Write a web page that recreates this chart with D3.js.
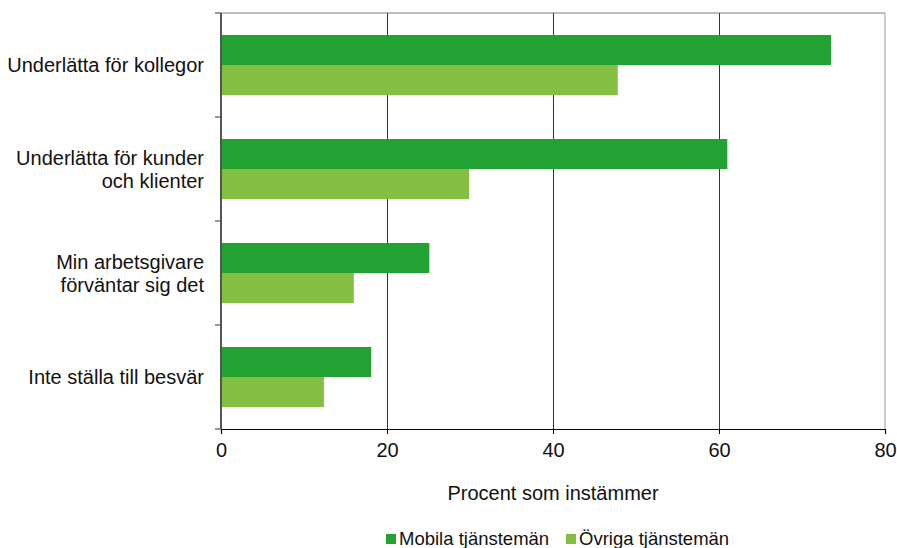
<!DOCTYPE html>
<html>
<head>
<meta charset="utf-8">
<script src="https://cdn.jsdelivr.net/npm/d3@7"></script>
<style>
  html, body { margin: 0; padding: 0; background: #fff; }
  svg { display: block; font-family: "Liberation Sans", Arial, sans-serif; }
</style>
</head>
<body>
<svg id="chart" width="897" height="548"></svg>
<script>
// Reasons for working outside office hours (percent who agree)
const categories = [
  ["Underlätta för kollegor"],
  ["Underlätta för kunder", "och klienter"],
  ["Min arbetsgivare", "förväntar sig det"],
  ["Inte ställa till besvär"]
];
const seriesNames = ["Mobila tjänstemän", "Övriga tjänstemän"];
const mobila = [73.5, 61.0, 25.1, 18.1];
const ovriga = [47.8, 29.9, 16.0, 12.4];
const xTicks = [0, 20, 40, 60, 80];
const colors = ["#21a232", "#84bf42"];

const svg = d3.select("#chart");
const m = { left: 221, right: 885, top: 13, bottom: 429 };

const x = d3.scaleLinear().domain([0, 80]).range([m.left, m.right]);
const y = d3.scaleBand().domain(d3.range(categories.length))
  .range([m.top, m.bottom]).paddingInner(0).paddingOuter(0);

// frame: top and right borders
svg.append("line").attr("x1", m.left).attr("x2", m.right)
  .attr("y1", m.top).attr("y2", m.top)
  .attr("stroke", "#aaaaaa").attr("stroke-width", 1.5);
svg.append("line").attr("x1", m.right).attr("x2", m.right)
  .attr("y1", m.top).attr("y2", m.bottom)
  .attr("stroke", "#999999").attr("stroke-width", 1);

// vertical gridlines
svg.append("g").selectAll("line")
  .data(xTicks.filter(d => d > 0 && d < 80))
  .join("line")
  .attr("x1", d => Math.round(x(d)) + 0.5).attr("x2", d => Math.round(x(d)) + 0.5)
  .attr("y1", m.top).attr("y2", m.bottom)
  .attr("stroke", "#333").attr("stroke-width", 1);

// bars
const series = [mobila, ovriga];
const bandH = y.bandwidth();
const barH = 30;
const padTop = (bandH - 2 * barH) / 2;
series.forEach((vals, si) => {
  svg.append("g").selectAll("rect")
    .data(vals)
    .join("rect")
    .attr("x", x(0))
    .attr("y", (d, i) => y(i) + padTop + si * barH)
    .attr("width", d => x(d) - x(0))
    .attr("height", barH)
    .attr("fill", colors[si]);
});

// bottom axis
const xAxis = d3.axisBottom(x).tickValues(xTicks).tickSize(5).tickPadding(9)
  .tickFormat(d3.format("d"));
const gx = svg.append("g").attr("transform", `translate(0,${m.bottom})`).call(xAxis);
gx.select(".domain").attr("stroke", "#000").attr("stroke-width", 1.2);
gx.selectAll(".tick line").attr("stroke", "#000");
gx.selectAll(".tick text").attr("font-size", 20).attr("fill", "#111")
  .attr("font-family", "Liberation Sans, Arial, sans-serif");

// left axis line with tick marks at category boundaries
svg.append("line").attr("x1", m.left).attr("x2", m.left)
  .attr("y1", m.top).attr("y2", m.bottom)
  .attr("stroke", "#555").attr("stroke-width", 2);
svg.append("g").selectAll("line")
  .data(d3.range(categories.length + 1))
  .join("line")
  .attr("x1", m.left - 6).attr("x2", m.left)
  .attr("y1", i => m.top + i * bandH).attr("y2", i => m.top + i * bandH)
  .attr("stroke", "#555").attr("stroke-width", 1.2);

// category labels
const lineH = 23;
const lab = svg.append("g").selectAll("text")
  .data(categories)
  .join("text")
  .attr("text-anchor", "end")
  .attr("font-size", 20)
  .attr("fill", "#111")
  .attr("transform", (d, i) => `translate(204,${y(i) + bandH / 2})`);
lab.selectAll("tspan")
  .data(d => d.map((t, j) => ({ t, j, n: d.length })))
  .join("tspan")
  .attr("x", 0)
  .attr("y", d => (d.j - (d.n - 1) / 2) * lineH + 7)
  .text(d => d.t);

// axis title
svg.append("text").attr("x", (m.left + m.right) / 2).attr("y", 500)
  .attr("text-anchor", "middle").attr("font-size", 20).attr("fill", "#111")
  .text("Procent som instämmer");

// legend
const leg = svg.append("g").attr("transform", "translate(386,545)");
const legX = [0, 180];
seriesNames.forEach((name, i) => {
  const g = leg.append("g").attr("transform", `translate(${legX[i]},0)`);
  g.append("rect").attr("x", 0).attr("y", -11).attr("width", 10).attr("height", 10)
    .attr("fill", colors[i]);
  g.append("text").attr("x", 13).attr("y", 0).attr("font-size", 18.5).attr("fill", "#111")
    .text(name);
});
</script>
</body>
</html>
